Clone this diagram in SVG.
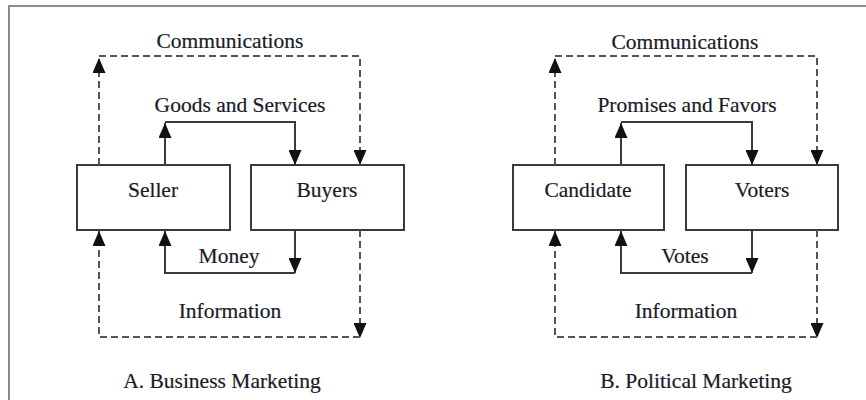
<svg xmlns="http://www.w3.org/2000/svg" width="866" height="400" viewBox="0 0 866 400">
  <style>
    .lbl { font-family: "Liberation Serif", "Times New Roman", serif; font-size: 21.5px; fill: #1a1a28; stroke: #1a1a28; stroke-width: 0.2; text-anchor: middle; }
    .box { fill: #ffffff; stroke: #3a3a3a; stroke-width: 2; }
    .solid { fill: none; stroke: #3a3a3a; stroke-width: 2; }
    .dash { fill: none; stroke: #555555; stroke-width: 2; stroke-dasharray: 7 4; }
    .frame { fill: none; stroke: #666666; stroke-width: 1.5; }
  </style>
  <defs>
    <marker id="arrow" viewBox="0 0 15 13" refX="15" refY="6.5" markerWidth="15" markerHeight="13" markerUnits="userSpaceOnUse" orient="auto">
      <path d="M0,0 L15,6.5 L0,13 z" fill="#111111"/>
    </marker>
  </defs>

  <rect width="866" height="400" fill="#ffffff"/>
  <path class="frame" d="M9,400 V6 H866"/>

  <!-- A. Business Marketing -->
  <g id="seller">
    <rect class="box" x="77" y="165" width="153" height="65"/>
    <text class="lbl" x="153" y="197">Seller</text>
  </g>
  <g id="buyers">
    <rect class="box" x="251" y="165" width="153" height="65"/>
    <text class="lbl" x="327" y="197">Buyers</text>
  </g>

  <!-- B. Political Marketing -->
  <g id="candidate">
    <rect class="box" x="513" y="165" width="151" height="65"/>
    <text class="lbl" x="588" y="197">Candidate</text>
  </g>
  <g id="voters">
    <rect class="box" x="686" y="165" width="152" height="65"/>
    <text class="lbl" x="762" y="197">Voters</text>
  </g>

  <g id="connectors">
    <!-- business: communications -->
    <path class="dash" d="M99,165 V58" marker-end="url(#arrow)"/>
    <path class="dash" d="M99,56 H360 V165" marker-end="url(#arrow)"/>
    <!-- business: goods and services -->
    <path class="solid" d="M165,165 V123" marker-end="url(#arrow)"/>
    <path class="solid" d="M165,122 H295 V165" marker-end="url(#arrow)"/>
    <!-- business: money -->
    <path class="solid" d="M295,230 V273" marker-end="url(#arrow)"/>
    <path class="solid" d="M295,273 H165 V231" marker-end="url(#arrow)"/>
    <!-- business: information -->
    <path class="dash" d="M360,230 V338" marker-end="url(#arrow)"/>
    <path class="dash" d="M360,337 H99 V231" marker-end="url(#arrow)"/>

    <!-- political: communications -->
    <path class="dash" d="M555,165 V58" marker-end="url(#arrow)"/>
    <path class="dash" d="M555,56 H817 V165" marker-end="url(#arrow)"/>
    <!-- political: promises and favors -->
    <path class="solid" d="M621,165 V123" marker-end="url(#arrow)"/>
    <path class="solid" d="M621,122 H752 V165" marker-end="url(#arrow)"/>
    <!-- political: votes -->
    <path class="solid" d="M752,230 V273" marker-end="url(#arrow)"/>
    <path class="solid" d="M752,273 H621 V231" marker-end="url(#arrow)"/>
    <!-- political: information -->
    <path class="dash" d="M817,230 V338" marker-end="url(#arrow)"/>
    <path class="dash" d="M817,337 H555 V231" marker-end="url(#arrow)"/>
  </g>

  <g id="labels">
    <text class="lbl" x="230" y="48">Communications</text>
    <text class="lbl" x="240" y="112">Goods and Services</text>
    <text class="lbl" x="229" y="263">Money</text>
    <text class="lbl" x="230" y="318">Information</text>
    <text class="lbl" x="222" y="388">A. Business Marketing</text>

    <text class="lbl" x="685" y="49">Communications</text>
    <text class="lbl" x="687" y="112">Promises and Favors</text>
    <text class="lbl" x="685" y="263">Votes</text>
    <text class="lbl" x="686" y="318">Information</text>
    <text class="lbl" x="696" y="388">B. Political Marketing</text>
  </g>
</svg>
